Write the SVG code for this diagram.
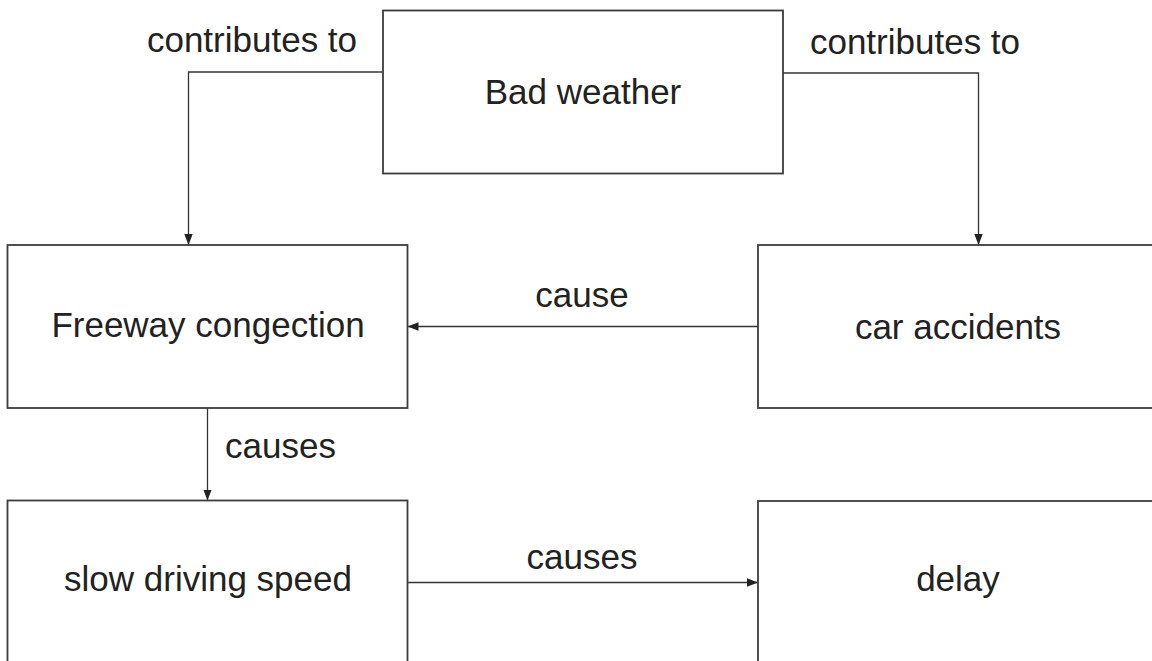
<svg xmlns="http://www.w3.org/2000/svg" width="1152" height="661" viewBox="0 0 1152 661">
  <style>
    .box { fill: #ffffff; stroke: #3c3c3c; stroke-width: 1.8; }
    .label { font-family: "Liberation Sans", Arial, sans-serif; font-size: 35px; fill: #222222; }
    .mid { text-anchor: middle; }
    .edge { fill: none; stroke: #333333; stroke-width: 1.3; marker-end: url(#arrow); }
  </style>
  <defs>
    <marker id="arrow" markerUnits="userSpaceOnUse" markerWidth="12" markerHeight="10" refX="11" refY="5" orient="auto">
      <path d="M0,0.8 L11,5 L0,9.2 Z" fill="#222222"/>
    </marker>
  </defs>
  <rect width="1152" height="661" fill="#ffffff"/>

  <g id="connectors">
    <path class="edge" d="M383,72 H188.5 V245"/>
    <path class="edge" d="M783,73 H978.5 V245"/>
    <path class="edge" d="M758,326.5 H407.5"/>
    <path class="edge" d="M207.5,408 V500.5"/>
    <path class="edge" d="M407.5,582.5 H758"/>
    <text class="label mid" x="252" y="52">contributes to</text>
    <text class="label mid" x="915" y="54">contributes to</text>
    <text class="label mid" x="582" y="307">cause</text>
    <text class="label" x="225" y="458">causes</text>
    <text class="label mid" x="582" y="569">causes</text>
  </g>

  <g id="bad-weather">
    <rect class="box" x="383" y="10.5" width="400" height="163"/>
    <text class="label mid" x="583" y="104">Bad weather</text>
  </g>

  <g id="freeway-congestion">
    <rect class="box" x="7.5" y="245" width="400" height="163"/>
    <text class="label mid" x="208" y="337">Freeway congection</text>
  </g>

  <g id="car-accidents">
    <rect class="box" x="758" y="245" width="400" height="163"/>
    <text class="label mid" x="958" y="339">car accidents</text>
  </g>

  <g id="slow-driving-speed">
    <rect class="box" x="7.5" y="500.5" width="400" height="200"/>
    <text class="label mid" x="208" y="591">slow driving speed</text>
  </g>

  <g id="delay">
    <rect class="box" x="758" y="501" width="400" height="200"/>
    <text class="label mid" x="958" y="591">delay</text>
  </g>
</svg>
